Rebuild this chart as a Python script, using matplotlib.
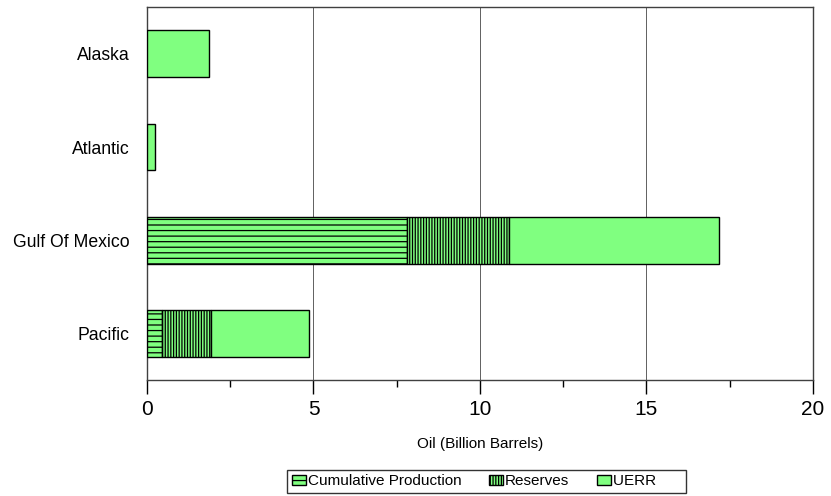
import numpy as np
import matplotlib
matplotlib.use("Agg")
import matplotlib.pyplot as plt
from matplotlib.ticker import MultipleLocator

plt.rcParams['font.family'] = ['Liberation Sans', 'DejaVu Sans']
plt.rcParams['hatch.color'] = '#102010'
plt.rcParams['hatch.linewidth'] = 0.9

# data (billion barrels)
regions = ['Alaska', 'Atlantic', 'Gulf Of Mexico', 'Pacific']
cumulative = [0.0, 0.0, 7.82, 0.44]
reserves = [0.0, 0.0, 3.04, 1.49]
uerr = [1.87, 0.25, 6.32, 2.93]

green = '#80FF80'

fig = plt.figure(figsize=(8.31, 4.96), dpi=100)
ax = fig.add_axes([0.1769, 0.2329, 0.8014, 0.7530])

y = np.arange(len(regions))
cum = np.array(cumulative)
res = np.array(reserves)
ue = np.array(uerr)

ax.barh(y, cum, height=0.5, color=green, edgecolor='black', linewidth=1.0,
        hatch='---', label='Cumulative Production', zorder=3)
ax.barh(y, res, left=cum, height=0.5, color=green, edgecolor='black', linewidth=1.0,
        hatch='||||||', label='Reserves', zorder=3)
# trailing spaces widen the legend box like the original
ax.barh(y, ue, left=cum + res, height=0.5, color=green, edgecolor='black', linewidth=1.0,
        label='UERR      ', zorder=3)

ax.set_ylim(len(regions) - 0.5, -0.5)
ax.set_yticks(y)
ax.set_yticklabels(regions, fontsize=12.7)
ax.tick_params(axis='y', length=0, pad=12.5)

ax.set_xlim(0, 20)
ax.xaxis.set_major_locator(MultipleLocator(5))
ax.xaxis.set_minor_locator(MultipleLocator(2.5))
ax.tick_params(axis='x', which='major', length=10, width=1, labelsize=15, pad=4)
ax.tick_params(axis='x', which='minor', length=5, width=1)
ax.grid(axis='x', which='major', color='#606060', linewidth=0.7, zorder=0)

for s in ax.spines.values():
    s.set_color('#404040')
    s.set_linewidth(1.0)

ax.set_xlabel('Oil (Billion Barrels)', fontsize=11, labelpad=13)

leg = ax.legend(loc='lower left', bbox_to_anchor=(287 / 831, 3 / 496), bbox_transform=fig.transFigure,
                ncol=3, fontsize=11, frameon=True, fancybox=False, edgecolor='black',
                handlelength=0.95, handleheight=0.6, handletextpad=0.1, columnspacing=1.8,
                borderpad=0.3, borderaxespad=0)
leg.get_frame().set_linewidth(1.0)

fig.savefig('out.png', dpi=100)
